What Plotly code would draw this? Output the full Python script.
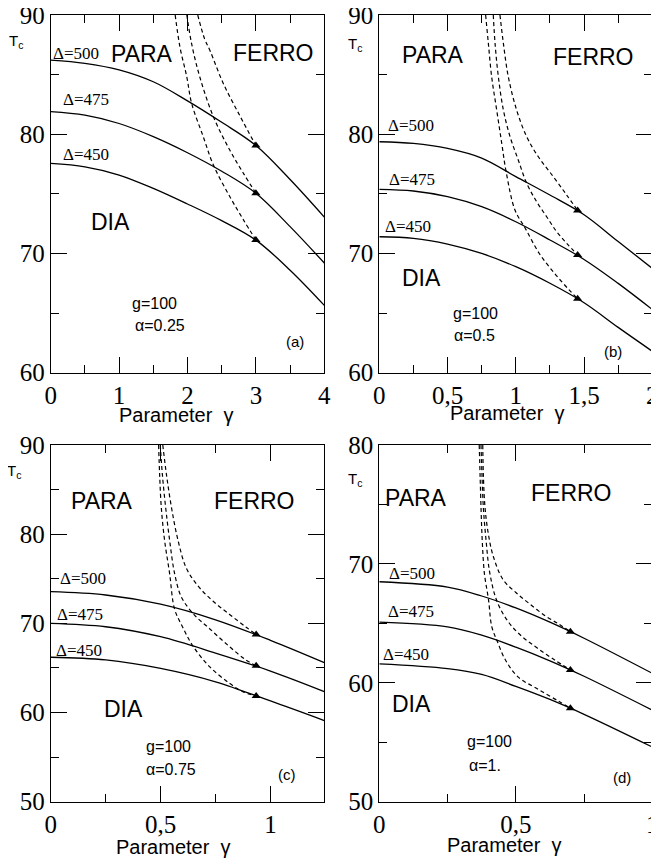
import plotly.graph_objects as go

# ---------------- Panel (a): g=100, alpha=0.25 ----------------
gamma_a = [0, 0.5, 1, 1.5, 2, 2.5, 3, 3.5, 4]
tc_a_500 = [86.22, 85.95, 85.4, 84.4, 82.8, 81.0, 79.05, 76.2, 73.05]
tc_a_475 = [81.9, 81.6, 80.9, 79.8, 78.45, 76.9, 75.05, 72.25, 69.2]
tc_a_450 = [77.55, 77.27, 76.58, 75.46, 74.15, 72.75, 71.12, 68.6, 65.65]
dash_a_500_g = [2.15, 2.25, 2.33, 2.52, 2.77, 3.0]
dash_a_500_t = [90, 88.0, 87.0, 84.3, 81.5, 79.05]
dash_a_475_g = [1.99, 2.06, 2.18, 2.38, 2.62, 2.82, 3.0]
dash_a_475_t = [90, 87.6, 84.8, 81.45, 78.65, 76.7, 75.05]
dash_a_450_g = [1.82, 1.89, 1.99, 2.06, 2.23, 2.38, 2.62, 2.82, 3.0]
dash_a_450_t = [90, 87.3, 84.8, 82.6, 79.8, 77.4, 74.75, 72.8, 71.12]
tri_a_g = [3.0, 3.0, 3.0]
tri_a_t = [79.05, 75.05, 71.12]

# ---------------- Panel (b): g=100, alpha=0.5 ----------------
gamma_b = [0, 0.25, 0.5, 0.75, 1.0, 1.25, 1.5, 1.75, 2.0]
tc_b_500 = [79.37, 79.23, 78.81, 78.0, 76.45, 74.9, 73.25, 71.0, 68.75]
tc_b_475 = [75.38, 75.24, 74.76, 73.92, 72.66, 71.13, 69.5, 67.49, 65.3]
tc_b_450 = [71.4, 71.27, 70.79, 70.0, 68.89, 67.5, 65.87, 63.8, 61.8]
dash_b_500_g = [0.884, 0.909, 0.945, 1.006, 1.080, 1.165, 1.275, 1.373, 1.453]
dash_b_500_t = [90, 87.62, 84.83, 82.03, 79.79, 78.11, 76.44, 74.9, 73.6]
dash_b_475_g = [0.835, 0.848, 0.872, 0.909, 0.958, 1.018, 1.080, 1.153, 1.226, 1.30, 1.373, 1.453]
dash_b_475_t = [90, 87.62, 84.83, 82.03, 79.79, 77.84, 75.88, 74.34, 73.08, 71.82, 70.85, 69.87]
dash_b_450_g = [0.779, 0.799, 0.823, 0.860, 0.897, 0.930, 0.994, 1.070, 1.172, 1.294, 1.392, 1.453]
dash_b_450_t = [90, 87.62, 84.83, 82.03, 79.24, 76.8, 73.64, 72.1, 70.0, 68.19, 66.93, 66.2]
tri_b_g = [1.453, 1.453, 1.453]
tri_b_t = [73.6, 69.87, 66.2]

# ---------------- Panel (c): g=100, alpha=0.75 ----------------
gamma_c = [0, 0.25, 0.5, 0.75, 1.0, 1.245]
tc_c_500 = [73.55, 73.18, 72.15, 70.4, 68.1, 65.6]
tc_c_475 = [70.0, 69.62, 68.5, 66.67, 64.65, 62.35]
tc_c_450 = [66.2, 65.9, 64.95, 63.45, 61.3, 59.1]
dash_c_500_g = [0.510, 0.526, 0.549, 0.579, 0.617, 0.67, 0.738, 0.814, 0.888, 0.935]
dash_c_500_t = [90, 86.82, 83.08, 79.35, 76.2, 74.2, 72.5, 71.0, 69.6, 68.75]
dash_c_475_g = [0.4986, 0.5077, 0.5227, 0.541, 0.5636, 0.594, 0.647, 0.723, 0.814, 0.888, 0.935]
dash_c_475_t = [90, 86.82, 83.08, 79.35, 75.61, 72.99, 71.12, 69.4, 67.38, 65.9, 65.25]
dash_c_450_g = [0.491, 0.4955, 0.503, 0.518, 0.541, 0.5636, 0.60, 0.647, 0.723, 0.814, 0.874, 0.935]
dash_c_450_t = [90, 86.82, 83.08, 79.35, 75.61, 71.6, 69.6, 67.46, 65.14, 63.27, 62.34, 61.85]
tri_c_g = [0.935, 0.935, 0.935]
tri_c_t = [68.75, 65.25, 61.85]

# ---------------- Panel (d): g=100, alpha=1 ----------------
gamma_d = [0, 0.25, 0.375, 0.5, 0.625, 0.75, 1.0]
tc_d_500 = [68.5, 68.05, 67.3, 66.3, 65.1, 63.75, 60.8]
tc_d_475 = [65.1, 64.7, 64.0, 63.0, 61.85, 60.55, 57.7]
tc_d_450 = [61.6, 61.2, 60.7, 59.7, 58.6, 57.35, 54.6]
dash_d_500_g = [0.379, 0.381, 0.387, 0.399, 0.418, 0.454, 0.50, 0.55, 0.61, 0.66, 0.70]
dash_d_500_t = [80, 77.62, 74.81, 72.57, 70.6, 68.65, 67.6, 66.65, 65.6, 64.9, 64.3]
dash_d_475_g = [0.3725, 0.376, 0.381, 0.391, 0.405, 0.432, 0.475, 0.525, 0.58, 0.64, 0.70]
dash_d_475_t = [80, 77.6, 74.8, 72.0, 69.2, 66.8, 65.05, 63.85, 62.9, 61.95, 61.08]
dash_d_450_g = [0.366, 0.369, 0.3725, 0.377, 0.385, 0.40, 0.412, 0.432, 0.462, 0.508, 0.586, 0.659, 0.70]
dash_d_450_t = [80, 77.62, 74.81, 72.0, 69.2, 67.0, 64.72, 63.5, 61.92, 60.5, 59.4, 58.42, 57.85]
tri_d_g = [0.70, 0.70, 0.70]
tri_d_t = [64.3, 61.08, 57.85]

# ---------------- labels ----------------
delta_labels = ["Δ=500", "Δ=475", "Δ=450"]
alpha_labels = ["α=0.25", "α=0.5", "α=0.75", "α=1."]
panel_tags = ["(a)", "(b)", "(c)", "(d)"]

SANS = "Liberation Sans"
SERIF = "Liberation Serif"

# page is shown with the browser's default 8px body margin
OFF = 8
W, H = 651, 851


def px_x(p):
    return (p - OFF) / W


def px_y(p):
    return 1 - (p - OFF) / H


panels = [
    dict(ax="", gamma=gamma_a, solids=[tc_a_500, tc_a_475, tc_a_450],
         dashes=[(dash_a_500_g, dash_a_500_t), (dash_a_475_g, dash_a_475_t), (dash_a_450_g, dash_a_450_t)],
         tri=(tri_a_g, tri_a_t),
         xpx=(50.7, 324.3), ypx=(15, 372.7), xr=[0, 4], yr=[60, 90],
         xn=5, xm=0.5, yn=4, ym=5,
         dpos=[(0.374, 86.79), (0.513, 82.9), (0.52, 78.26)],
         para=(1.342, 86.71), ferro=(3.254, 86.79), dia=(0.867, 72.6),
         g=(1.513, 65.81), a=(1.598, 63.93), tag=(3.57, 62.59),
         title_px=(176, 415), tc_px=(16, 41)),
    dict(ax="2", gamma=gamma_b, solids=[tc_b_500, tc_b_475, tc_b_450],
         dashes=[(dash_b_500_g, dash_b_500_t), (dash_b_475_g, dash_b_475_t), (dash_b_450_g, dash_b_450_t)],
         tri=(tri_b_g, tri_b_t),
         xpx=(379.3, 652.3), ypx=(15, 372.7), xr=[0, 2], yr=[60, 90],
         xn=5, xm=0.25, yn=4, ym=5,
         dpos=[(0.231, 80.77), (0.237, 76.18), (0.213, 72.24)],
         para=(0.39, 86.64), ferro=(1.568, 86.5), dia=(0.31, 67.91),
         g=(0.707, 64.97), a=(0.701, 63.09), tag=(1.714, 61.75),
         title_px=(507, 413), tc_px=(355, 45)),
    dict(ax="3", gamma=gamma_c, solids=[tc_c_500, tc_c_475, tc_c_450],
         dashes=[(dash_c_500_g, dash_c_500_t), (dash_c_475_g, dash_c_475_t), (dash_c_450_g, dash_c_450_t)],
         tri=(tri_c_g, tri_c_t),
         xpx=(50.7, 324.3), ypx=(445, 801.7), xr=[0, 1.245], yr=[50, 90],
         xn=3, xm=0.25, yn=5, ym=5,
         dpos=[(0.147, 75.05), (0.132, 70.94), (0.128, 67.01)],
         para=(0.234, 83.74), ferro=(0.927, 83.74), dia=(0.329, 60.37),
         g=(0.537, 56.17), a=(0.549, 53.66), tag=(1.075, 53.08),
         title_px=(173, 847), tc_px=(14, 472)),
    dict(ax="4", gamma=gamma_d, solids=[tc_d_500, tc_d_475, tc_d_450],
         dashes=[(dash_d_500_g, dash_d_500_t), (dash_d_475_g, dash_d_475_t), (dash_d_450_g, dash_d_450_t)],
         tri=(tri_d_g, tri_d_t),
         xpx=(379.3, 652.3), ypx=(445, 801.7), xr=[0, 1], yr=[50, 80],
         xn=3, xm=0.25, yn=4, ym=5,
         dpos=[(0.121, 69.21), (0.115, 65.98), (0.099, 62.34)],
         para=(0.136, 75.58), ferro=(0.705, 76.0), dia=(0.119, 58.2),
         g=(0.403, 55.05), a=(0.387, 53.02), tag=(0.888, 52.04),
         title_px=(504, 845), tc_px=(355, 479)),
]

fig = go.Figure()
annotations = []
layout_axes = {}

for i, p in enumerate(panels):
    xa = "x" + p["ax"]
    ya = "y" + p["ax"]
    for s in p["solids"]:
        fig.add_trace(go.Scatter(x=p["gamma"], y=s, mode="lines", xaxis=xa, yaxis=ya,
                                 line=dict(color="black", width=1.3, shape="spline", smoothing=1.0),
                                 showlegend=False))
    for dg, dt in p["dashes"]:
        fig.add_trace(go.Scatter(x=dg, y=dt, mode="lines", xaxis=xa, yaxis=ya,
                                 line=dict(color="black", width=1.2, dash="4px,3px", shape="spline", smoothing=1.0),
                                 showlegend=False))
    fig.add_trace(go.Scatter(x=p["tri"][0], y=p["tri"][1], mode="markers", xaxis=xa, yaxis=ya,
                             marker=dict(symbol="triangle-up", size=8, color="black"),
                             showlegend=False))

    # minimal axis styling (same options as a configuration that is known to draw ticks)
    layout_axes["xaxis" + p["ax"]] = dict(
        ticks="inside", ticklen=16, showline=True, mirror="allticks", tickcolor="black",
        linecolor="black", domain=[px_x(p["xpx"][0]), px_x(p["xpx"][1])],
        range=p["xr"], anchor=ya, nticks=p["xn"], ticklabeloverflow="allow",
        tickfont=dict(family=SERIF, size=25, color="black"),
        minor=dict(ticks="inside", ticklen=8, tickcolor="black", dtick=p["xm"]))
    layout_axes["yaxis" + p["ax"]] = dict(
        ticks="inside", ticklen=16, showline=True, mirror="allticks", tickcolor="black",
        linecolor="black", domain=[px_y(p["ypx"][1]), px_y(p["ypx"][0])],
        range=p["yr"], anchor=xa, nticks=p["yn"], ticklabeloverflow="allow",
        tickfont=dict(family=SERIF, size=25, color="black"),
        minor=dict(ticks="inside", ticklen=8, tickcolor="black", dtick=p["ym"]))

    def ann(text, pos, size, family=SANS):
        annotations.append(dict(text=text, x=pos[0], y=pos[1], xref=xa, yref=ya,
                                showarrow=False, xanchor="center", yanchor="middle",
                                font=dict(family=family, size=size, color="black")))

    for lbl, pos in zip(delta_labels, p["dpos"]):
        ann(lbl, pos, 17, SERIF)
    ann("PARA", p["para"], 23)
    ann("FERRO", p["ferro"], 23)
    ann("DIA", p["dia"], 23)
    ann("g=100", p["g"], 16)
    ann(alpha_labels[i], p["a"], 16)
    ann(panel_tags[i], p["tag"], 15)

    annotations.append(dict(text="Parameter  γ", x=px_x(p["title_px"][0]), y=px_y(p["title_px"][1]),
                            xref="paper", yref="paper", showarrow=False, xanchor="center", yanchor="middle",
                            font=dict(family=SANS, size=20, color="black")))
    annotations.append(dict(text="T<sub>c</sub>", x=px_x(p["tc_px"][0]), y=px_y(p["tc_px"][1]),
                            xref="paper", yref="paper", showarrow=False, xanchor="center", yanchor="middle",
                            font=dict(family=SANS, size=15, color="black")))

fig.update_layout(width=W, height=H, margin=dict(l=0, r=0, t=0, b=0, autoexpand=False),
                  plot_bgcolor="white", separators=",.", showlegend=False,
                  annotations=annotations, **layout_axes)

fig.write_html("out.html")
